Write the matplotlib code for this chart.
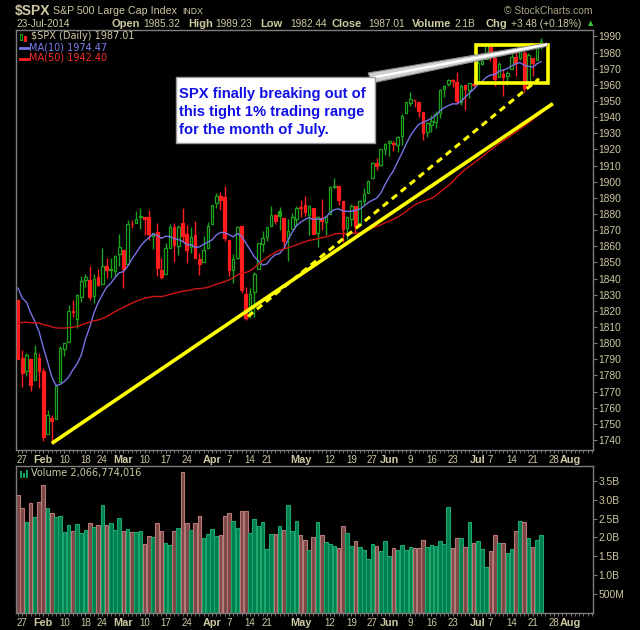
import matplotlib
matplotlib.use('Agg')
import matplotlib.pyplot as plt
from matplotlib.patches import Rectangle, Polygon
import numpy as np
import pandas as pd

# $SPX daily bars, 24-Jan-2014 .. 23-Jul-2014
opens = [1826.96, 1791.03, 1783.00, 1790.15, 1777.17, 1790.88,
         1782.68, 1743.82, 1753.38, 1752.99, 1776.01, 1796.20, 1800.45, 1820.12, 1814.82, 1828.46,
         1839.03, 1838.90, 1829.24, 1841.07, 1836.78, 1847.66, 1845.79, 1844.90, 1855.12,
         1857.68, 1849.23, 1874.05, 1874.18, 1878.52, 1877.86, 1878.26, 1866.15, 1869.06, 1845.07,
         1842.81, 1858.92, 1872.25, 1860.09, 1874.53, 1867.67, 1859.48, 1867.09, 1852.11, 1850.07, 1859.16,
         1873.96, 1886.61, 1891.43, 1890.25, 1863.92, 1845.48, 1852.64, 1872.28, 1830.65, 1818.18,
         1831.45, 1846.01, 1861.73, 1865.79, 1872.57, 1879.32, 1881.97, 1877.72, 1865.00, 1870.78, 1877.10,
         1884.39, 1885.30, 1879.45, 1883.69, 1868.53, 1877.39, 1875.27, 1880.03, 1896.75, 1897.13,
         1888.16, 1871.19, 1876.66, 1884.88, 1873.34, 1888.19, 1893.32, 1902.01, 1911.77, 1910.60, 1920.33,
         1923.87, 1923.07, 1923.06, 1928.52, 1942.41, 1948.97, 1950.34, 1949.37, 1943.35, 1930.80,
         1934.84, 1937.15, 1942.73, 1957.50, 1960.45, 1962.92, 1961.97, 1949.27, 1959.89, 1956.56, 1960.79,
         1962.29, 1973.06, 1975.88, 1984.22, 1976.39, 1965.10, 1966.67, 1965.76, 1969.86, 1977.36,
         1976.35, 1979.75, 1961.54, 1976.93, 1975.65, 1985.32]
highs = [1826.96, 1795.98, 1793.87, 1790.15, 1798.77, 1793.88,
         1784.83, 1758.73, 1755.79, 1774.06, 1798.03, 1799.94, 1823.54, 1826.55, 1830.25, 1841.65,
         1842.87, 1847.50, 1842.79, 1846.13, 1858.71, 1852.91, 1852.65, 1854.53, 1867.92,
         1857.68, 1876.23, 1876.53, 1881.94, 1883.57, 1877.87, 1882.35, 1868.38, 1874.40, 1852.44,
         1862.30, 1873.76, 1874.14, 1873.49, 1883.97, 1873.34, 1871.87, 1875.92, 1855.55, 1866.63, 1875.18,
         1885.84, 1893.17, 1893.80, 1897.28, 1864.04, 1854.95, 1872.43, 1872.53, 1835.07, 1834.19,
         1844.02, 1862.31, 1869.63, 1871.89, 1884.89, 1879.75, 1884.06, 1877.72, 1877.01, 1880.60, 1885.20,
         1888.59, 1891.33, 1885.51, 1883.69, 1878.83, 1889.07, 1878.57, 1897.13, 1902.17, 1897.13,
         1888.16, 1878.28, 1886.00, 1884.88, 1888.80, 1896.33, 1901.26, 1912.28, 1914.46, 1920.03, 1924.03,
         1925.88, 1925.07, 1928.63, 1941.74, 1949.44, 1955.55, 1950.86, 1949.37, 1943.35, 1937.30,
         1941.15, 1943.69, 1957.74, 1959.87, 1963.91, 1963.74, 1968.17, 1960.83, 1959.89, 1961.47, 1964.24,
         1978.58, 1976.67, 1985.59, 1984.22, 1976.39, 1974.15, 1969.84, 1968.67, 1979.85, 1982.52,
         1983.94, 1981.80, 1979.91, 1976.93, 1986.24, 1989.23]
lows = [1790.29, 1772.88, 1779.49, 1770.45, 1777.17, 1772.26,
        1739.66, 1743.82, 1737.92, 1752.99, 1776.01, 1791.83, 1800.41, 1815.97, 1809.22, 1825.59,
        1835.01, 1826.99, 1824.58, 1835.60, 1836.78, 1840.19, 1840.66, 1841.13, 1847.67,
        1834.44, 1849.23, 1871.11, 1874.18, 1870.56, 1867.04, 1863.88, 1858.39, 1841.86, 1839.57,
        1842.81, 1858.92, 1850.35, 1854.63, 1863.46, 1849.69, 1855.96, 1852.56, 1842.11, 1850.07, 1859.16,
        1873.96, 1883.79, 1882.65, 1863.26, 1841.48, 1837.49, 1852.38, 1830.87, 1814.36, 1815.80,
        1816.29, 1846.01, 1856.72, 1863.18, 1872.57, 1873.91, 1870.24, 1859.70, 1850.61, 1870.78, 1872.69,
        1878.04, 1878.50, 1866.77, 1867.72, 1859.79, 1870.05, 1867.02, 1880.03, 1896.06, 1885.77,
        1862.36, 1864.82, 1872.42, 1868.14, 1873.34, 1885.39, 1893.32, 1902.01, 1907.30, 1909.82, 1916.64,
        1915.98, 1918.79, 1918.60, 1922.93, 1942.41, 1947.16, 1946.47, 1940.08, 1925.78, 1927.69,
        1930.91, 1933.55, 1939.29, 1952.26, 1959.17, 1958.89, 1948.34, 1947.49, 1944.69, 1952.18, 1958.22,
        1962.29, 1972.58, 1975.88, 1974.88, 1959.46, 1965.10, 1952.86, 1959.63, 1969.86, 1965.34,
        1975.67, 1955.59, 1960.82, 1965.77, 1975.65, 1982.44]
closes = [1790.29, 1781.56, 1792.50, 1774.20, 1794.19, 1782.59,
          1741.89, 1755.20, 1751.64, 1773.43, 1797.02, 1799.84, 1819.75, 1819.26, 1829.83, 1838.63,
          1840.76, 1828.75, 1839.78, 1836.25, 1847.61, 1845.12, 1845.16, 1854.29, 1859.45,
          1845.73, 1873.91, 1873.81, 1877.03, 1878.04, 1877.17, 1867.63, 1868.20, 1846.34, 1841.13,
          1858.83, 1872.25, 1860.77, 1872.01, 1866.52, 1857.44, 1865.62, 1852.56, 1849.04, 1857.62, 1872.34,
          1885.52, 1890.90, 1888.77, 1865.09, 1845.04, 1851.96, 1872.18, 1833.08, 1815.69, 1830.61,
          1842.98, 1862.31, 1864.85, 1871.89, 1879.55, 1875.39, 1878.61, 1863.40, 1869.43, 1878.33, 1883.95,
          1883.68, 1881.14, 1884.66, 1867.72, 1878.21, 1875.63, 1878.48, 1896.65, 1897.45, 1888.53,
          1870.85, 1877.86, 1885.08, 1872.83, 1888.03, 1892.49, 1900.53, 1911.91, 1909.78, 1920.03, 1923.57,
          1924.97, 1924.24, 1927.88, 1940.46, 1949.44, 1951.27, 1950.79, 1943.89, 1930.11, 1936.16,
          1937.78, 1941.99, 1956.98, 1959.48, 1962.87, 1962.61, 1949.98, 1959.53, 1957.22, 1960.96, 1960.23,
          1973.32, 1974.62, 1985.44, 1977.65, 1963.71, 1972.83, 1964.68, 1967.57, 1977.10, 1973.28,
          1981.57, 1958.12, 1978.22, 1973.63, 1983.53, 1987.01]
# closes before the chart start (12-Nov-2013 .. 23-Jan-2014), only needed for the moving averages
prior_closes = [1767.69, 1782.00, 1790.62, 1798.18, 1791.53, 1787.87, 1781.37, 1795.85, 1804.76,
                1802.48, 1802.75, 1807.23, 1805.81, 1800.90, 1795.15, 1792.81, 1785.03, 1805.09,
                1808.37, 1802.62, 1782.22, 1775.50, 1775.32, 1786.54, 1781.00, 1810.65, 1809.60,
                1818.32, 1827.99, 1833.32, 1842.02, 1841.40, 1841.07, 1848.36, 1831.98, 1831.37,
                1826.77, 1837.88, 1837.49, 1838.13, 1842.37, 1819.20, 1838.88, 1848.38, 1845.89,
                1838.70, 1843.80, 1844.86, 1828.46]
# volume in billions of shares
volume = [3.13, 2.78, 2.41, 2.91, 2.54, 2.93, 3.39, 2.78, 2.64, 2.54, 2.57, 2.14, 2.33, 2.18, 2.36,
          2.11, 2.20, 2.38, 2.27, 2.33, 2.86, 2.33, 2.38, 2.20, 2.51, 2.18, 2.22, 2.15, 2.15, 2.17,
          1.83, 2.04, 2.01, 2.38, 2.18, 1.85, 1.80, 2.18, 2.25, 3.73, 2.38, 2.20, 2.38, 2.57, 1.98,
          2.10, 2.22, 2.03, 2.07, 2.57, 2.64, 2.44, 2.25, 2.70, 2.70, 2.11, 2.49, 2.31, 2.40, 1.70,
          2.10, 2.10, 2.31, 2.20, 2.85, 2.18, 2.44, 2.07, 1.94, 1.67, 2.01, 2.40, 2.07, 1.89, 1.83,
          1.78, 1.72, 2.31, 2.13, 1.76, 1.91, 1.74, 1.67, 1.44, 1.83, 1.76, 1.63, 1.91, 1.52, 1.72,
          1.67, 1.81, 1.67, 1.74, 1.72, 1.72, 1.94, 1.74, 1.81, 1.78, 1.91, 1.83, 2.80, 1.72, 1.98,
          1.98, 1.74, 2.41, 1.85, 1.91, 1.69, 1.22, 1.65, 2.07, 1.85, 1.85, 1.59, 1.70, 2.17, 2.44,
          2.40, 1.98, 1.74, 1.94, 2.07]

holidays = ['2014-02-17', '2014-04-18', '2014-05-26', '2014-07-04']
tick_dates = ['2014-01-27', '2014-02-03', '2014-02-10', '2014-02-18', '2014-02-24', '2014-03-03',
              '2014-03-10', '2014-03-17', '2014-03-24', '2014-04-01', '2014-04-07', '2014-04-14',
              '2014-04-21', '2014-05-01', '2014-05-12', '2014-05-19', '2014-05-27', '2014-06-02',
              '2014-06-09', '2014-06-16', '2014-06-23', '2014-07-01', '2014-07-07', '2014-07-14',
              '2014-07-21', '2014-07-28', '2014-08-01']
tick_text = ['27', 'Feb', '10', '18', '24', 'Mar', '10', '17', '24', 'Apr', '7', '14', '21', 'May',
             '12', '19', '27', 'Jun', '9', '16', '23', 'Jul', '7', '14', '21', '28', 'Aug']

price_ticks = list(range(1740, 1991, 10))
vol_ticks = [0.5, 1.0, 1.5, 2.0, 2.5, 3.0, 3.5]
vol_tick_text = ['500M', '1.0B', '1.5B', '2.0B', '2.5B', '3.0B', '3.5B']

BG = 'black'
TAN = '#cdc9a2'
GRID = '#7d7d7d'
GREEN = '#1ca31c'
RED = '#ff1c1c'
FONT = 'Liberation Sans'

# trading day slots, including the empty ones after the last bar
days = pd.bdate_range('2014-01-24', '2014-08-12')
days = days[~days.isin(pd.to_datetime(holidays))]
slot = {d: i for i, d in enumerate(days)}
tick_pos = [slot[pd.Timestamp(d)] for d in tick_dates]

o, h, l, c = (np.array(a) for a in (opens, highs, lows, closes))
h = np.maximum(h, np.maximum(o, c))
l = np.minimum(l, np.minimum(o, c))
x = np.arange(len(c))
allc = pd.Series(prior_closes + closes)
ma10 = allc.rolling(10).mean().values[len(prior_closes):]
ma50 = allc.rolling(50).mean().values[len(prior_closes):]
prev = np.array([prior_closes[-1]] + closes[:-1])
up = c >= prev

fig = plt.figure(figsize=(6.4, 6.3), dpi=100, facecolor=BG)


def px(xp, yp):
    return xp / 640.0, 1 - yp / 630.0


ax = fig.add_axes([16 / 640., 1 - 450 / 630., 577 / 640., 420 / 630.], facecolor=BG)
axv = fig.add_axes([16 / 640., 1 - 613 / 630., 577 / 640., 147 / 630.], facecolor=BG)

# candles
col = np.where(up, GREEN, RED)
face = np.where(c < o, col, BG)
ax.vlines(x, l, h, colors=list(col), lw=1, zorder=3)
ax.bar(x, np.maximum(np.abs(c - o), 0.25), bottom=np.minimum(o, c), width=0.62,
       color=list(face), edgecolor=list(col), lw=0.9, zorder=3)

ax.plot(x, ma10, color='#7474e4', lw=1, zorder=4)
ax.plot(x, ma50, color='#d01515', lw=1, zorder=4)

# trend lines and range box
ax.plot([8, 126.8], [1737.9, 1948.4], color='#ffff00', lw=2.6, zorder=5,
        solid_capstyle='butt')
ax.plot([54.5, 123.5], [1816.5, 1963.8], color='#ffff00', lw=2.2, zorder=5,
        dashes=(2.2, 1.6))
ax.add_patch(Rectangle((108.5, 1961.4), 17.1, 23.5, fill=False, edgecolor='#ffff00',
                       lw=2.6, zorder=5))

# callout with pointer
ax.add_patch(Polygon([(83.0, 1967.4), (125.4, 1985.9), (125.4, 1983.9), (84.0, 1961.2)],
                     closed=True, facecolor='#cfcfcf', edgecolor='#8a8a8a', lw=0.8, zorder=6))
ax.plot([84.0, 125.2], [1964.5, 1985.0], color='white', lw=1.6, zorder=6)
ax.add_patch(Rectangle((37.4, 1924.3), 47.2, 40.8, facecolor='white', edgecolor='#9a9a9a',
                       lw=1, zorder=7))
ax.text(38.2, 1943.2, 'SPX finally breaking out of\nthis tight 1% trading range\nfor the month of July.',
        color='#1010e6', fontsize=10.6, fontweight='bold', family=FONT, ha='left', va='center',
        linespacing=1.33, zorder=8)

# volume bars
vcol = np.where(up, '#007e50', '#7a4747')
vedge = np.where(up, '#1aa86c', '#b77878')
axv.bar(x, np.array(volume), width=0.86, color=list(vcol), edgecolor=list(vedge), lw=0.8)

for a in (ax, axv):
    a.set_xlim(-0.47, 136.3)
    for s in a.spines.values():
        s.set_color(GRID)
        s.set_linewidth(1)
    a.yaxis.tick_right()
    a.tick_params(axis='y', colors=GRID, labelcolor=TAN, length=3, pad=1, labelsize=7.4)
    a.set_xticks(tick_pos)
    a.set_xticks(np.arange(0, 137), minor=True)
    a.set_xticklabels(tick_text)
    a.tick_params(axis='x', which='both', colors=GRID, labelcolor=TAN, length=2.5,
                  pad=1.2, labelsize=7)
    for lab, t in zip(a.get_xticklabels(), tick_text):
        lab.set_family(FONT)
        if not t.isdigit():
            lab.set_fontweight('bold')
            lab.set_fontsize(7.8)
    for lab in a.get_yticklabels():
        lab.set_family(FONT)

ax.set_ylim(1733.8, 1994)
ax.set_yticks(price_ticks)
axv.set_ylim(0, 3.89)
axv.set_yticks(vol_ticks)
axv.set_yticklabels(vol_tick_text, family=FONT)

# header
fig.text(*px(15, 11), '$SPX', color=TAN, fontsize=10, fontweight='bold', family=FONT, va='center')
fig.text(*px(53, 11), 'S&P 500 Large Cap Index', color=TAN, fontsize=7.7, family=FONT, va='center')
fig.text(*px(182, 11.5), 'INDX', color=TAN, fontsize=6.3, family=FONT, va='center')
fig.text(*px(593, 11), '\u00a9 StockCharts.com', color='#a9a585', fontsize=7.4, family=FONT,
         va='center', ha='right')
fig.text(*px(16, 24), '23-Jul-2014', color=TAN, fontsize=7.3, family=FONT, va='center')
header = [(111, 'Open', True), (143, '1985.32', False), (188, 'High', True), (215, '1989.23', False),
          (260, 'Low', True), (290, '1982.44', False), (332, 'Close', True), (368, '1987.01', False),
          (412, 'Volume', True), (454, '2.1B', False), (486, 'Chg', True),
          (511, '+3.48 (+0.18%)', False)]
for xp, t, bold in header:
    fig.text(*px(xp, 24), t, color=TAN, fontsize=8.0 if bold else 7.3, family=FONT, va='center',
             fontweight='bold' if bold else 'normal')
fig.text(*px(588, 23.5), '\u25b2', color='#3cc83c', fontsize=5, va='center', family='DejaVu Sans')

# legends
fig.patches.append(Rectangle(px(20, 40), 2 / 640., 6 / 630., transform=fig.transFigure,
                             facecolor=BG, edgecolor=GREEN, lw=0.8))
fig.patches.append(Rectangle(px(24, 41), 2 / 640., 5 / 630., transform=fig.transFigure,
                             facecolor=RED, edgecolor=RED, lw=0.8))
fig.text(*px(31, 36), '$SPX (Daily) 1987.01', color=TAN, fontsize=7, family='DejaVu Sans',
         va='center')
fig.lines.append(plt.Line2D([20 / 640., 28 / 640.], [1 - 47.5 / 630.] * 2, color='#7474e4', lw=2,
                            transform=fig.transFigure))
fig.text(*px(29, 47), 'MA(10) 1974.47', color='#7f7ff2', fontsize=7, family='DejaVu Sans',
         va='center')
fig.lines.append(plt.Line2D([20 / 640., 28 / 640.], [1 - 58.5 / 630.] * 2, color='#ff2020', lw=2,
                            transform=fig.transFigure))
fig.text(*px(29, 58), 'MA(50) 1942.40', color='#ff2a2a', fontsize=7, family='DejaVu Sans',
         va='center')
for xp, hh in [(19.5, 7), (22.5, 5), (25.5, 8)]:
    fig.patches.append(Rectangle(px(xp, 478), 2 / 640., hh / 630., transform=fig.transFigure,
                                 facecolor='#10a060', edgecolor='none'))
fig.text(*px(31, 473), 'Volume 2,066,774,016', color=TAN, fontsize=7, family='DejaVu Sans',
         va='center')

fig.savefig('out.png', dpi=100, facecolor=BG)
